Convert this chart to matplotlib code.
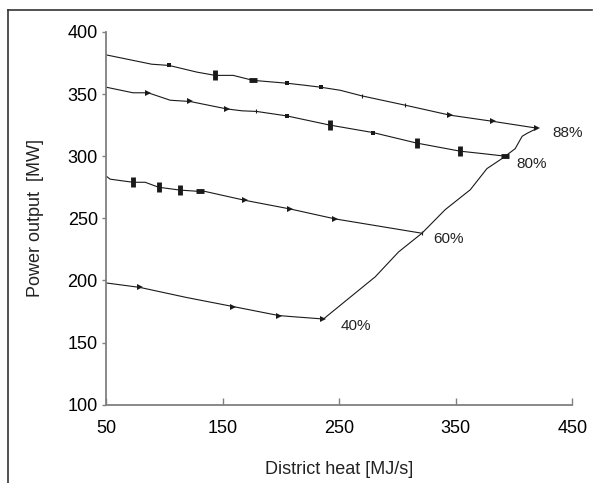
import matplotlib.pyplot as plt
from matplotlib.lines import Line2D

# Series (district heat MJ/s, power output MW)
x88 = [50, 89, 104, 128, 143.6, 159, 176, 205, 221, 234, 251, 269.5, 306.7, 345, 382, 420]
y88 = [381.5, 374, 373, 367.6, 365, 365, 361, 358.7, 357, 355.5, 353, 348.5, 341, 333, 328, 322.5]

x80 = [50, 73, 86, 105, 122, 153.6, 166.5, 179, 205, 242, 279, 316.7, 354, 373.7, 392.5]
y80 = [355.5, 351, 351, 345, 344, 338, 336.5, 336, 332.4, 325, 319, 310.5, 304, 302, 300]

x60 = [50, 53.4, 73, 83.5, 95, 113.5, 130.7, 135, 169, 208, 246.6, 321]
y60 = [284, 281.5, 279, 279, 275, 272.7, 271.6, 271.6, 264.5, 257.5, 249.5, 238]

x40 = [50, 79, 119, 159, 198, 208, 236.5]
y40 = [198, 194.4, 186.3, 179, 171.8, 171, 169]

# max-load line joining the ends
xmax = [236.5, 281, 301, 321, 341, 362.5, 376.8, 389.6, 392.5, 401, 407, 411.5, 420]
ymax = [169, 203, 223, 238, 257, 273, 290, 298, 300, 306, 316, 318.5, 322.5]

load_labels = ['88%', '80%', '60%', '40%']
label_x = [433, 402, 331, 251]
label_y = [319, 294, 233, 163]

# which points carry which marker
marks = {
    '88': {'sq': [2, 7, 9], 'tall': [4], 'wide': [6], 'tick': [11, 12], 'tri': [13, 14, 15]},
    '80': {'sq': [8, 10], 'tall': [9, 11, 12], 'wide': [14], 'tick': [7], 'tri': [2, 4, 5]},
    '60': {'sq': [], 'tall': [2, 4, 5], 'wide': [6], 'tick': [11], 'tri': [8, 9, 10]},
    '40': {'sq': [], 'tall': [], 'wide': [], 'tick': [], 'tri': [1, 3, 4, 6]},
}

plt.rcParams['font.family'] = ['Liberation Sans', 'DejaVu Sans']

fig = plt.figure(figsize=(5.93, 4.83), dpi=100)
ax = fig.add_axes([0.179, 0.162, 0.786, 0.772])

col = '#1a1a1a'
styles = {
    'sq': dict(marker='s', ms=3, mew=0),
    'tall': dict(marker='|', ms=7, mew=3.5),
    'wide': dict(marker='_', ms=6, mew=3.5),
    'tick': dict(marker='|', ms=3, mew=0.8),
    'tri': dict(marker='>', ms=4, mew=0),
}

for key, xs, ys in [('88', x88, y88), ('80', x80, y80), ('60', x60, y60), ('40', x40, y40)]:
    ax.plot(xs, ys, color=col, lw=0.8)
    for kind, idx in marks[key].items():
        if idx:
            ax.plot([xs[i] for i in idx], [ys[i] for i in idx], ls='none',
                    color=col, mfc=col, mec=col, **styles[kind])

ax.plot(xmax, ymax, color=col, lw=0.8)

for lab, lx, ly in zip(load_labels, label_x, label_y):
    ax.text(lx, ly, lab, fontsize=11, va='center', ha='left', color='#222222')

ax.set_xlim(50, 450)
ax.set_ylim(100, 400)
ax.set_xticks([50, 150, 250, 350, 450])
ax.set_yticks([100, 150, 200, 250, 300, 350, 400])

for s in ['top', 'right']:
    ax.spines[s].set_visible(False)
for s in ['left', 'bottom']:
    ax.spines[s].set_color('#808080')
    ax.spines[s].set_linewidth(1.3)

ax.tick_params(axis='x', direction='in', length=5, width=1, color='#808080',
               labelsize=13, pad=11)
ax.tick_params(axis='y', direction='out', length=3, width=1, color='#808080',
               labelsize=13, pad=3)

ax.set_xlabel('District heat [MJ/s]', fontsize=13, labelpad=17, color='#222222')
ax.set_ylabel('Power output  [MW]', fontsize=13, labelpad=17, color='#222222')

# frame around the figure (only left and top edges show)
fig.add_artist(Line2D([8 / 593, 8 / 593], [0, 1 - 10 / 483], color='#333333', lw=1.2))
fig.add_artist(Line2D([8 / 593, 592 / 593], [1 - 10 / 483, 1 - 10 / 483], color='#333333', lw=1.2))

plt.savefig('out.png', dpi=100)
